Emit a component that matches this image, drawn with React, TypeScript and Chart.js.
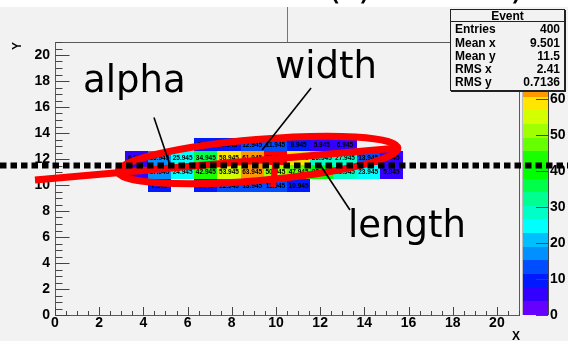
import React, { useEffect, useRef } from 'react';
import { Chart, registerables } from 'chart.js';

Chart.register(...registerables);

// ---- data -------------------------------------------------------------
const X_MIN = 0;
const X_MAX = 21;
const Y_MIN = 0;
const Y_MAX = 21;
const N_BINS = 20;
const Z_MAX = 75.945;

// y-bin indices (0..19) of the filled rows
const filledYBins = [9, 10, 11, 12];
// bin contents per row, indexed by x-bin 0..19 (0 = empty)
const row9 = [0, 0, 0, 0, 7.945, 0, 8.945, 12.945, 13.945, 11.945, 10.945, 0, 0, 0, 0, 0, 0, 0, 0, 0];
const row10 = [0, 0, 0, 6.945, 17.945, 24.945, 42.945, 53.945, 63.945, 50.945, 47.945, 38.945, 29.945, 23.945, 5.945, 0, 0, 0, 0, 0];
const row11 = [0, 0, 0, 6.945, 16.945, 25.945, 34.945, 58.945, 61.945, 75.945, 57.945, 29.945, 27.945, 13.945, 5.945, 0, 0, 0, 0, 0];
const row12 = [0, 0, 0, 0, 0, 0, 8.945, 8.945, 12.945, 11.945, 9.945, 5.945, 6.945, 0, 0, 0, 0, 0, 0, 0];
const rowValues = [row9, row10, row11, row12];

const paletteColors = [
  '#6600ff', '#3300ff', '#0019ff', '#004cff', '#0090ff',
  '#00bfff', '#00ffff', '#00ffc8', '#00ff90', '#00ff48',
  '#00ff00', '#1aff00', '#66ff00', '#a0ff00', '#d4ff00',
  '#ffe500', '#ff9900', '#ff6600', '#ff3300', '#ff0000',
];

const statsTitle = 'Event';
const statsLabels = ['Entries', 'Mean x', 'Mean y', 'RMS x', 'RMS y'];
const statsValues = ['400', '9.501', '11.5', '2.41', '0.7136'];

const annotationWords = ['alpha', 'width', 'length'];
const meanY = 11.5;

// ---- overlay geometry (data coordinates) ------------------------------
const LABEL_POS = [
  { x: 1.27, y: 17.15 },
  { x: 9.96, y: 18.23 },
  { x: 13.26, y: 6.0 },
];
const POINTERS = [
  [4.48, 15.2, 5.25, 11.31],
  [11.59, 17.46, 9.37, 12.69],
  [12.02, 11.5, 13.35, 8.08],
];
const MAJOR_LINE = [-0.905, 10.385, 15.52, 12.85];
const ELLIPSE_ENDS = [2.85, 11.0, 15.52, 12.85];
const ELLIPSE_HALF_MINOR = 1.58;
const MINOR_LINE = [10.0, 12.23, 9.87, 9.85];

const BOLD = '"Liberation Sans", Arial, sans-serif';

const rootPlugin = {
  id: 'rootPainter',
  beforeDraw(chart: any) {
    const { ctx, width, height } = chart;
    ctx.save();
    ctx.fillStyle = '#f2f2f2';
    ctx.fillRect(0, 0, width, height);
    ctx.fillStyle = '#ffffff';
    ctx.fillRect(0, 0, width, 7);
    ctx.restore();
  },
  afterDraw(chart: any) {
    const { ctx, chartArea, width } = chart;
    const xs = chart.scales.x;
    const ys = chart.scales.y;
    const zs = chart.scales.z;
    const px = (v: number) => xs.getPixelForValue(v);
    const py = (v: number) => ys.getPixelForValue(v);
    const bw = (X_MAX - X_MIN) / N_BINS;
    const bh = (Y_MAX - Y_MIN) / N_BINS;
    const colorFor = (v: number) =>
      paletteColors[Math.min(N_BINS - 1, Math.floor((v / Z_MAX) * N_BINS))];

    ctx.save();
    // cells
    rowValues.forEach((row, r) => {
      const yb = filledYBins[r];
      const yTop = Math.round(py(Y_MIN + (yb + 1) * bh));
      const yBot = Math.round(py(Y_MIN + yb * bh));
      row.forEach((v, xb) => {
        if (!v) return;
        const x0 = Math.round(px(X_MIN + xb * bw));
        const x1 = Math.round(px(X_MIN + (xb + 1) * bw));
        ctx.fillStyle = colorFor(v);
        ctx.fillRect(x0, yTop, x1 - x0, yBot - yTop);
      });
    });
    ctx.fillStyle = '#000';
    ctx.font = `bold 6.5px ${BOLD}`;
    ctx.textAlign = 'center';
    ctx.textBaseline = 'middle';
    rowValues.forEach((row, r) => {
      const yb = filledYBins[r];
      const yc = py(Y_MIN + (yb + 0.5) * bh);
      row.forEach((v, xb) => {
        if (!v) return;
        ctx.fillText(String(v), px(X_MIN + (xb + 0.5) * bw), yc + 0.5);
      });
    });

    // frame
    ctx.strokeStyle = '#5a5a5a';
    ctx.lineWidth = 1;
    ctx.strokeRect(
      Math.round(chartArea.left) + 0.5,
      Math.round(chartArea.top) + 0.5,
      Math.round(chartArea.right - chartArea.left),
      Math.round(chartArea.bottom - chartArea.top)
    );

    // ticks (inside, ROOT style)
    ctx.strokeStyle = '#444';
    ctx.beginPath();
    const bottom = Math.round(chartArea.bottom) + 0.5;
    const left = Math.round(chartArea.left) + 0.5;
    for (let v = X_MIN; v <= X_MAX + 1e-9; v += 0.5) {
      const major = Math.abs(v % 2) < 1e-9;
      const x = Math.round(px(v)) + 0.5;
      ctx.moveTo(x, bottom);
      ctx.lineTo(x, bottom - (major ? 8.5 : 4.5));
    }
    for (let v = Y_MIN; v <= Y_MAX + 1e-9; v += 0.5) {
      const major = Math.abs(v % 2) < 1e-9;
      const y = Math.round(py(v)) + 0.5;
      ctx.moveTo(left, y);
      ctx.lineTo(left + (major ? 14 : 7), y);
    }
    ctx.stroke();

    // palette
    const pl = Math.round(zs.left) + 3;
    const pr = Math.round(zs.left) + 29;
    const step = Z_MAX / N_BINS;
    for (let k = 0; k < N_BINS; k++) {
      const yt = Math.round(zs.getPixelForValue((k + 1) * step));
      const yb2 = Math.round(zs.getPixelForValue(k * step));
      ctx.fillStyle = paletteColors[k];
      ctx.fillRect(pl, yt, pr - pl, yb2 - yt);
    }
    ctx.strokeStyle = '#bbb';
    ctx.beginPath();
    ctx.moveTo(pl + 0.5, Math.round(zs.getPixelForValue(0)));
    ctx.lineTo(pl + 0.5, Math.round(zs.getPixelForValue(Z_MAX)));
    ctx.stroke();
    ctx.strokeStyle = '#444';
    ctx.beginPath();
    ctx.moveTo(pr + 0.5, Math.round(zs.getPixelForValue(0)));
    ctx.lineTo(pr + 0.5, Math.round(zs.getPixelForValue(Z_MAX)));
    zs.ticks.forEach((t: any) => {
      const y = Math.round(zs.getPixelForValue(t.value)) + 0.5;
      ctx.moveTo(pr, y);
      ctx.lineTo(pr - 12, y);
    });
    ctx.stroke();

    // pad edge line at top
    ctx.strokeStyle = '#777';
    ctx.beginPath();
    ctx.moveTo(287.5, 7);
    ctx.lineTo(287.5, chartArea.top);
    ctx.stroke();

    // title remnants (clipped at the top)
    ctx.fillStyle = '#000';
    ctx.font = '37px "DejaVu Sans"';
    ctx.textAlign = 'left';
    ctx.textBaseline = 'alphabetic';
    ctx.fillText('(', 327, -1.5);
    ctx.fillText(')', 358, -1.5);
    ctx.fillText(')', 510, -1.5);

    // axis titles
    ctx.font = `bold 12px ${BOLD}`;
    ctx.textAlign = 'right';
    ctx.fillText('X', Math.round(chartArea.right) + 1, 340);
    ctx.save();
    ctx.translate(20.5, Math.round(chartArea.top));
    ctx.rotate(-Math.PI / 2);
    ctx.textAlign = 'right';
    ctx.textBaseline = 'alphabetic';
    ctx.fillText('Y', 0, 0);
    ctx.restore();

    // red Hillas overlay
    ctx.strokeStyle = '#ff0000';
    ctx.lineWidth = 7;
    ctx.lineCap = 'butt';
    ctx.beginPath();
    ctx.moveTo(px(MAJOR_LINE[0]), py(MAJOR_LINE[1]));
    ctx.lineTo(px(MAJOR_LINE[2]), py(MAJOR_LINE[3]));
    ctx.stroke();
    const ex1 = px(ELLIPSE_ENDS[0]);
    const ey1 = py(ELLIPSE_ENDS[1]);
    const ex2 = px(ELLIPSE_ENDS[2]);
    const ey2 = py(ELLIPSE_ENDS[3]);
    const a = Math.hypot(ex2 - ex1, ey2 - ey1) / 2;
    const b = py(0) - py(ELLIPSE_HALF_MINOR);
    const ang = Math.atan2(ey2 - ey1, ex2 - ex1);
    ctx.beginPath();
    ctx.ellipse((ex1 + ex2) / 2, (ey1 + ey2) / 2, a, b, ang, 0, Math.PI * 2);
    ctx.stroke();
    ctx.lineWidth = 6;
    ctx.beginPath();
    ctx.moveTo(px(MINOR_LINE[0]), py(MINOR_LINE[1]));
    ctx.lineTo(px(MINOR_LINE[2]), py(MINOR_LINE[3]));
    ctx.stroke();

    // dotted mean line
    ctx.strokeStyle = '#000';
    ctx.lineWidth = 6;
    ctx.setLineDash([6.5, 4]);
    ctx.beginPath();
    const my = py(meanY);
    ctx.moveTo(0, my);
    ctx.lineTo(width, my);
    ctx.stroke();
    ctx.setLineDash([]);

    // pointer lines
    ctx.lineWidth = 1.6;
    ctx.strokeStyle = '#000';
    POINTERS.forEach((p) => {
      ctx.beginPath();
      ctx.moveTo(px(p[0]), py(p[1]));
      ctx.lineTo(px(p[2]), py(p[3]));
      ctx.stroke();
    });

    // annotation words
    ctx.fillStyle = '#000';
    ctx.font = '37px "DejaVu Sans"';
    ctx.textAlign = 'left';
    ctx.textBaseline = 'alphabetic';
    annotationWords.forEach((w, i) => {
      ctx.fillText(w, px(LABEL_POS[i].x), py(LABEL_POS[i].y));
    });

    // stats box
    const bx = 450, by = 9, bwid = 115, bhei = 82;
    ctx.fillStyle = '#222';
    ctx.fillRect(bx + 1, by + 1, bwid, bhei);
    ctx.fillStyle = '#f2f2f2';
    ctx.fillRect(bx, by, bwid, bhei);
    ctx.strokeStyle = '#222';
    ctx.lineWidth = 1;
    ctx.strokeRect(bx + 0.5, by + 0.5, bwid - 1, bhei - 1);
    ctx.beginPath();
    ctx.moveTo(bx, 21.5);
    ctx.lineTo(bx + bwid, 21.5);
    ctx.stroke();
    ctx.fillStyle = '#000';
    ctx.font = `bold 12px ${BOLD}`;
    ctx.textAlign = 'center';
    ctx.fillText(statsTitle, bx + bwid / 2, 19.5);
    const baselines = [33.3, 46.6, 60, 73.4, 86.4];
    statsLabels.forEach((l, i) => {
      ctx.textAlign = 'left';
      ctx.fillText(l, bx + 5, baselines[i]);
      ctx.textAlign = 'right';
      ctx.fillText(statsValues[i], bx + bwid - 5, baselines[i]);
    });
    ctx.restore();
  },
};

const noPad = (s: any) => {
  s.paddingTop = 0;
  s.paddingBottom = 0;
  s.paddingLeft = 0;
  s.paddingRight = 0;
};

export default function App() {
  const ref = useRef<HTMLCanvasElement | null>(null);
  useEffect(() => {
    document.body.style.margin = '0';
    const canvas = ref.current;
    if (!canvas) return;
    const tickFont = { family: BOLD, size: 14, weight: 'bold' as const, lineHeight: 1 };
    const chart = new Chart(canvas, {
      type: 'scatter',
      data: { datasets: [{ data: [], pointRadius: 0 }] },
      options: {
        animation: false,
        responsive: false,
        devicePixelRatio: 1,
        layout: { padding: { top: 42, left: 0, right: 0, bottom: 0 } },
        plugins: { legend: { display: false }, tooltip: { enabled: false } },
        scales: {
          x: {
            type: 'linear',
            min: X_MIN,
            max: X_MAX,
            grid: { display: false, drawTicks: false },
            border: { display: false },
            ticks: {
              stepSize: 2,
              includeBounds: false,
              autoSkip: false,
              maxRotation: 0,
              padding: 1,
              color: '#000',
              font: tickFont,
            },
            afterFit: (s: any) => { s.height = 26; noPad(s); },
          },
          y: {
            type: 'linear',
            position: 'left',
            min: Y_MIN,
            max: Y_MAX,
            grid: { display: false, drawTicks: false },
            border: { display: false },
            ticks: {
              stepSize: 2,
              includeBounds: false,
              autoSkip: false,
              padding: 5,
              color: '#000',
              font: tickFont,
            },
            afterFit: (s: any) => { s.width = 55; noPad(s); },
          },
          z: {
            type: 'linear',
            axis: 'y',
            position: 'right',
            min: 0,
            max: Z_MAX,
            grid: { display: false, drawTicks: false },
            border: { display: false },
            ticks: {
              stepSize: 10,
              includeBounds: false,
              autoSkip: false,
              padding: 31,
              color: '#000',
              font: tickFont,
            },
            afterFit: (s: any) => { s.width = 49; noPad(s); },
          },
        },
      },
      plugins: [rootPlugin],
    });
    return () => chart.destroy();
  }, []);
  return <canvas ref={ref} width={568} height={341} style={{ display: 'block' }} />;
}
